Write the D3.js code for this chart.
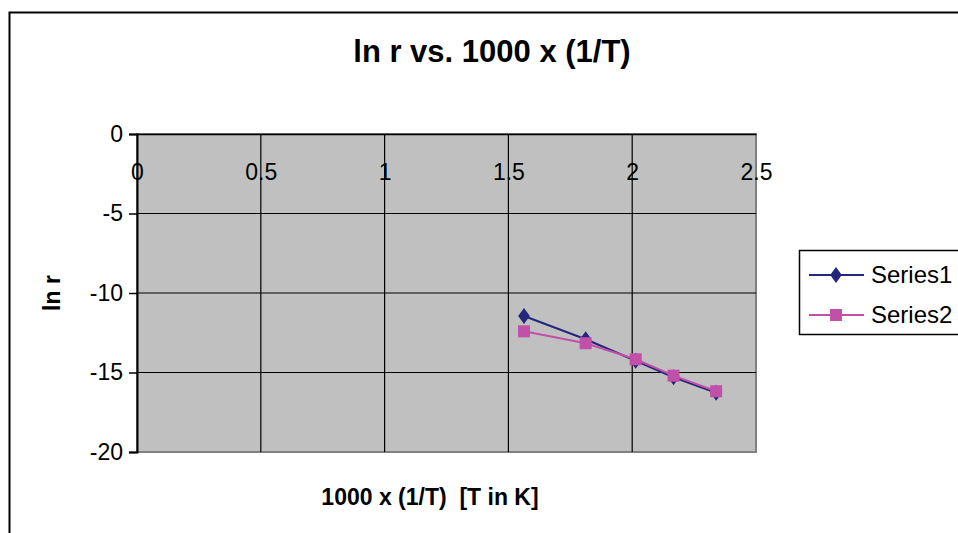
<!DOCTYPE html>
<html>
<head>
<meta charset="utf-8">
<script src="https://cdn.jsdelivr.net/npm/d3@7"></script>
<style>
  html, body { margin: 0; padding: 0; background: #fff; }
  svg { display: block; font-family: Arial, "Liberation Sans", sans-serif; }
</style>
</head>
<body>
<svg id="chart" width="958" height="533"></svg>
<script>
// values
const xValues = [1.563, 1.812, 2.014, 2.167, 2.339];
const series1 = [-11.45, -12.91, -14.26, -15.30, -16.27];
const series2 = [-12.41, -13.16, -14.17, -15.20, -16.18];
const seriesNames = ['Series1', 'Series2'];
const xTicks = [0, 0.5, 1, 1.5, 2, 2.5];
const yTicks = [0, -5, -10, -15, -20];

const svg = d3.select('#chart');

// plot area bounds
const plotL = 137, plotR = 756, plotT = 134, plotB = 452;

const x = d3.scaleLinear().domain([0, 2.5]).range([plotL, plotR]);
const y = d3.scaleLinear().domain([0, -20]).range([plotT, plotB]);

// outer chart border (runs off the right and bottom edges)
svg.append('rect')
    .attr('x', 9.5).attr('y', 12.5)
    .attr('width', 1000).attr('height', 600)
    .attr('fill', '#fff')
    .attr('stroke', '#000')
    .attr('stroke-width', 2);

// title
svg.append('text')
    .attr('x', 492).attr('y', 62)
    .attr('text-anchor', 'middle')
    .attr('font-size', 31).attr('font-weight', 'bold')
    .text('ln r vs. 1000 x (1/T)');

// plot background
svg.append('rect')
    .attr('x', plotL).attr('y', plotT)
    .attr('width', plotR - plotL).attr('height', plotB - plotT)
    .attr('fill', '#c0c0c0')
    .attr('stroke', '#808080')
    .attr('stroke-width', 2);

// gridlines
svg.append('g').selectAll('line')
    .data(yTicks.filter(d => d !== 0 && d !== -20))
    .join('line')
    .attr('x1', plotL).attr('x2', plotR)
    .attr('y1', d => y(d)).attr('y2', d => y(d))
    .attr('stroke', '#000').attr('stroke-width', 1.2);

svg.append('g').selectAll('line')
    .data(xTicks.filter(d => d !== 0 && d !== 2.5))
    .join('line')
    .attr('x1', d => x(d)).attr('x2', d => x(d))
    .attr('y1', plotT).attr('y2', plotB)
    .attr('stroke', '#000').attr('stroke-width', 1.2);

// y axis (at x = 0)
const yAxis = d3.axisLeft(y).tickValues(yTicks).tickSize(8).tickPadding(6).tickFormat(d3.format('d'));
const yg = svg.append('g').attr('transform', `translate(${plotL},0)`).call(yAxis);
yg.select('.domain').attr('stroke', '#000').attr('stroke-width', 2);
yg.selectAll('.tick line').attr('stroke', '#000').attr('stroke-width', 1.5);
yg.selectAll('.tick text')
    .attr('font-size', 23).attr('fill', '#000')
    .text(d => d === 0 ? '0' : '-' + Math.abs(d));

// x axis (at y = 0, labels hang below inside the plot)
const xAxis = d3.axisBottom(x).tickValues(xTicks).tickSize(0).tickPadding(30).tickFormat(d => String(d));
const xg = svg.append('g').attr('transform', `translate(0,${y(0)})`).call(xAxis);
xg.select('.domain').attr('stroke', '#000').attr('stroke-width', 1.5);
xg.selectAll('.tick text').attr('font-size', 23).attr('fill', '#000');

// axis titles
svg.append('text')
    .attr('x', 430).attr('y', 505)
    .attr('text-anchor', 'middle')
    .attr('font-size', 23).attr('font-weight', 'bold')
    .style('white-space', 'pre')
    .text('1000 x (1/T)  [T in K]');

svg.append('text')
    .attr('transform', `translate(60,${(plotT + plotB) / 2}) rotate(-90)`)
    .attr('text-anchor', 'middle')
    .attr('font-size', 23).attr('font-weight', 'bold')
    .text('ln r');

// series
const colors = ['#23267a', '#c050a8'];
const data = [series1, series2].map(vals => vals.map((v, i) => ({ x: xValues[i], y: v })));
const line = d3.line().x(d => x(d.x)).y(d => y(d.y));

data.forEach((pts, s) => {
    svg.append('path')
        .datum(pts)
        .attr('d', line)
        .attr('fill', 'none')
        .attr('stroke', colors[s])
        .attr('stroke-width', 2);
});

const diamond = d3.symbol().type(d3.symbolDiamond).size(90);
svg.append('g').selectAll('path')
    .data(data[0])
    .join('path')
    .attr('transform', d => `translate(${x(d.x)},${y(d.y)}) scale(1.15,0.9)`)
    .attr('d', diamond())
    .attr('fill', colors[0]);

svg.append('g').selectAll('rect')
    .data(data[1])
    .join('rect')
    .attr('x', d => x(d.x) - 6).attr('y', d => y(d.y) - 6)
    .attr('width', 12).attr('height', 12)
    .attr('fill', colors[1]);

// legend
const legend = svg.append('g');
legend.append('rect')
    .attr('x', 799.5).attr('y', 250.5)
    .attr('width', 200).attr('height', 84)
    .attr('fill', '#fff')
    .attr('stroke', '#000')
    .attr('stroke-width', 1.5);

const rows = legend.selectAll('g.row')
    .data(seriesNames)
    .join('g')
    .attr('class', 'row')
    .attr('transform', (d, i) => `translate(0,${275 + i * 40})`);

rows.append('line')
    .attr('x1', 809).attr('x2', 864)
    .attr('stroke', (d, i) => colors[i])
    .attr('stroke-width', 2);

rows.filter((d, i) => i === 0).append('path')
    .attr('transform', 'translate(836,0) scale(1.15,0.9)')
    .attr('d', diamond())
    .attr('fill', colors[0]);

rows.filter((d, i) => i === 1).append('rect')
    .attr('x', 830).attr('y', -6)
    .attr('width', 12).attr('height', 12)
    .attr('fill', colors[1]);

rows.append('text')
    .attr('x', 871).attr('y', 8)
    .attr('font-size', 24)
    .text(d => d);
</script>
</body>
</html>
